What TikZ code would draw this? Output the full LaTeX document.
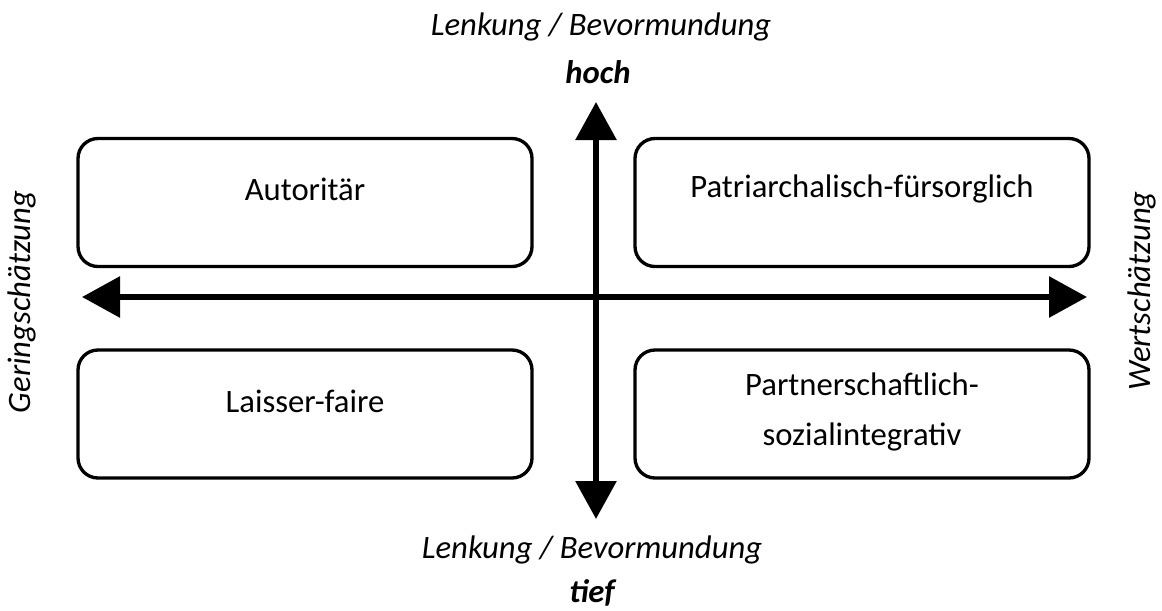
\documentclass[tikz,border=0pt]{standalone}
\usepackage{fontspec}
\setmainfont{Carlito}
\usetikzlibrary{arrows.meta}
\usetikzlibrary{positioning}

\tikzset{
  stilbox/.style={draw, line width=2.5pt, rounded corners=15pt, minimum width=340.5pt, minimum height=96pt, inner sep=0pt},
  achse/.style={line width=4.5pt, {Triangle[length=28.5pt,width=30pt]}-{Triangle[length=28.5pt,width=30pt]}},
  txt/.style={font=\fontsize{24.5}{37}\selectfont, inner sep=0pt, align=center},
  itxt/.style={font=\fontsize{24.5}{29}\selectfont\itshape, inner sep=0pt}
}

\begin{document}
\begin{tikzpicture}[x=0.75pt,y=-0.75pt]
\useasboundingbox (0,0) rectangle (1162,610);

% Stil-Felder
\node[stilbox] (autoritaer) at (305,202.5) {};
\node[stilbox] (patriarch) at (862,202.5) {};
\node[stilbox] (laisser) at (305,414) {};
\node[stilbox] (partner) at (862,414) {};

\node[txt] (tautoritaer) at (305,189) {Autoritär};
\node[txt] (tpatriarch) at (862,189) {Patriarchalisch-fürsorglich};
\node[txt] (tlaisser) at (305,401) {Laisser-faire};
\node[txt] (tpartner) at (862,412) {Partnerschaftlich-\\sozialintegrativ};

% Achsen
\coordinate (links) at (82,297);
\coordinate (rechts) at (1087,297);
\coordinate (oben) at (596,102);
\coordinate (unten) at (596,519);
\draw[achse] (links) -- (rechts);
\draw[achse] (unten) -- (oben);

% Beschriftung
\node[itxt] (lenkoben) at (601,27) {Lenkung / Bevormundung};
\node[itxt, font=\fontsize{24.5}{29}\selectfont\itshape\bfseries] (hoch) at (598,72) {hoch};
\node[itxt] (lenkunten) at (592,550) {Lenkung / Bevormundung};
\node[itxt, font=\fontsize{24.5}{29}\selectfont\itshape\bfseries] (tief) at (592,593) {tief};
\node[itxt, rotate=90] (gering) at (22,302) {Geringschätzung};
\node[itxt, rotate=90] (wert) at (1142,291) {Wertschätzung};
\end{tikzpicture}
\end{document}
